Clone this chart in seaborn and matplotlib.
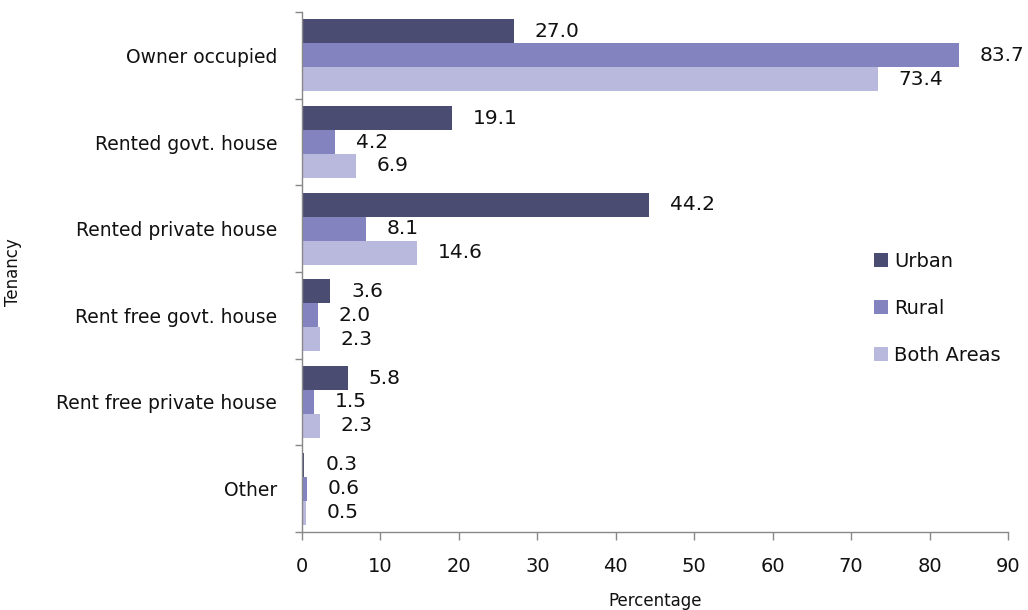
import numpy as np
import pandas as pd
import seaborn as sns
from matplotlib import pyplot as plt

tenancy = ['Owner occupied', 'Rented govt. house', 'Rented private house',
           'Rent free govt. house', 'Rent free private house', 'Other']
areas = ['Urban', 'Rural', 'Both Areas']
urban = [27.0, 19.1, 44.2, 3.6, 5.8, 0.3]
rural = [83.7, 4.2, 8.1, 2.0, 1.5, 0.6]
both = [73.4, 6.9, 14.6, 2.3, 2.3, 0.5]
colors = ['#4a4c72', '#8383c0', '#b9b9de']

df = pd.DataFrame({
    'Tenancy': tenancy * 3,
    'Area': np.repeat(areas, len(tenancy)),
    'Percentage': urban + rural + both,
})

sns.set_style('white')
plt.rcParams['font.family'] = ['DejaVu Sans']
plt.rcParams['text.color'] = '#111111'
narrow = ['Liberation Sans Narrow', 'DejaVu Sans']

fig = plt.figure(figsize=(10.28, 6.1), dpi=100)
ax = fig.add_axes([0.2938, 0.1279, 0.6867, 0.8524])

sns.barplot(data=df, y='Tenancy', x='Percentage', hue='Area', palette=colors,
            order=tenancy, hue_order=areas, width=0.83, orient='h', ax=ax,
            saturation=1, errorbar=None, linewidth=0)

for cont in ax.containers:
    ax.bar_label(cont, fmt='%.1f', padding=15, fontsize=14.5, color='#111111')

ax.set_xlim(0, 90)
ax.set_ylim(5.5, -0.5)
ax.set_xticks(np.arange(0, 91, 10))
ax.set_xticklabels([str(v) for v in range(0, 91, 10)], family=narrow, fontsize=14)
ax.set_yticks(np.arange(-0.5, 6, 1), minor=True)
ax.tick_params(axis='y', which='major', left=False, length=0, pad=18, labelsize=13.5,
               labelcolor='#111111')
ax.tick_params(axis='y', which='minor', left=True, length=5, direction='out',
               color='#888888', width=1)
ax.tick_params(axis='x', which='major', bottom=True, length=6, direction='out',
               color='#888888', width=1, pad=12, labelcolor='#111111')

for s in ['top', 'right']:
    ax.spines[s].set_visible(False)
for s in ['left', 'bottom']:
    ax.spines[s].set_color('#888888')
    ax.spines[s].set_linewidth(1)

ax.set_xlabel('Percentage', family=narrow, fontsize=12, color='#111111')
ax.set_ylabel('Tenancy', family=narrow, fontsize=12, color='#111111')
ax.xaxis.set_label_coords(0.5, -0.115)
ax.yaxis.set_label_coords(-0.397, 0.5)

leg = ax.legend(loc='center left', bbox_to_anchor=(0.786, 0.43), frameon=False,
                fontsize=14, handlelength=0.7, handleheight=0.7,
                handletextpad=0.3, labelspacing=1.45)
for t in leg.get_texts():
    t.set_color('#111111')

fig.savefig('out.png', dpi=100)
